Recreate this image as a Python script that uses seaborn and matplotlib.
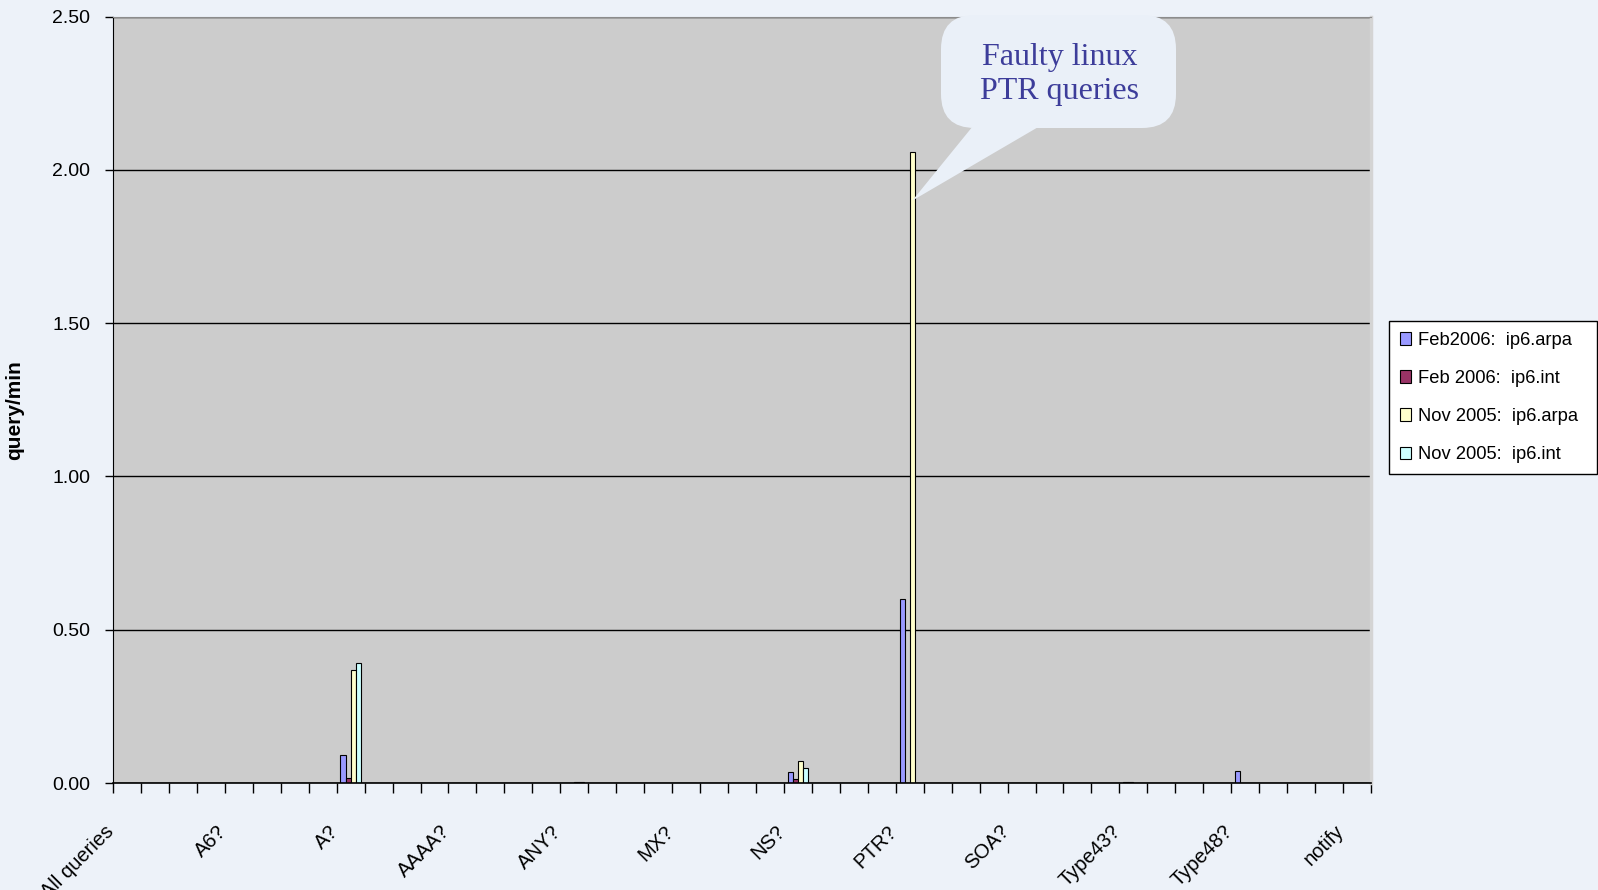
import numpy as np
import pandas as pd
import matplotlib
matplotlib.use("Agg")
import matplotlib.pyplot as plt
import seaborn as sns
from matplotlib.patches import FancyBboxPatch, Polygon
from matplotlib.transforms import ScaledTranslation, IdentityTransform

# ---------------- data ----------------
categories = ["All queries", "A6?", "A?", "AAAA?", "ANY?", "MX?", "NS?",
              "PTR?", "SOA?", "Type43?", "Type48?", "notify"]
series_names = ["Feb2006:  ip6.arpa", "Feb 2006:  ip6.int",
                "Nov 2005:  ip6.arpa", "Nov 2005:  ip6.int"]
feb2006_arpa = [0, 0, 0.09, 0, 0, 0, 0.037, 0.60, 0, 0.004, 0.039, 0]
feb2006_int = [0, 0, 0.015, 0, 0, 0, 0.013, 0, 0, 0.003, 0, 0]
nov2005_arpa = [0, 0, 0.37, 0, 0.003, 0, 0.073, 2.06, 0, 0, 0, 0]
nov2005_int = [0, 0, 0.39, 0, 0.003, 0, 0.049, 0, 0, 0, 0, 0]
colors = ["#9999ff", "#993366", "#ffffcc", "#ccffff"]
yticks = [0.0, 0.5, 1.0, 1.5, 2.0, 2.5]
label_step = 4          # the axis labels every 4th category slot
n_slots = 45

slot_names = [categories[i // label_step] if i % label_step == 0 else f"_slot{i}"
              for i in range(n_slots)]

rows = []
for name, vals in zip(series_names, [feb2006_arpa, feb2006_int, nov2005_arpa, nov2005_int]):
    for c, v in zip(categories, vals):
        rows.append({"category": c, "series": name, "value": v})
df = pd.DataFrame(rows)

# ---------------- figure ----------------
plt.rcParams["font.family"] = ["Liberation Sans", "DejaVu Sans"]
W, H = 1598, 890
fig = plt.figure(figsize=(W / 100, H / 100), dpi=100, facecolor="#edf2f9")
ax = fig.add_axes([113 / W, 107 / H, 1258 / W, 766.3 / H])
ax.set_facecolor("#cccccc")

sns.barplot(data=df, x="category", y="value", hue="series", order=slot_names,
            hue_order=series_names, palette=colors, saturation=1, width=0.73,
            edgecolor="black", linewidth=0.8, errorbar=None, ax=ax)

ax.set_xlim(-0.5, n_slots - 0.5)
ax.set_ylim(0, 2.5)
ax.set_axisbelow(True)
ax.yaxis.grid(True, color="black", linewidth=1)
ax.xaxis.grid(False)

ax.set_yticks(yticks, [f"{v:.2f}" for v in yticks])
ax.tick_params(axis="y", length=6, width=1, color="black", pad=10.5, labelsize=14)

ax.set_xticks(np.arange(n_slots + 1) - 0.5)
ax.set_xticklabels([])
ax.tick_params(axis="x", which="major", length=7, width=1, color="black")
label_pos = list(range(0, n_slots, label_step))
ax.set_xticks(label_pos, minor=True)
ax.set_xticklabels(categories, minor=True, rotation=45, ha="right", fontsize=14.5)
ax.tick_params(axis="x", which="minor", length=0, pad=28)
offset = ScaledTranslation(-9 / 100, 0, fig.dpi_scale_trans)
for lbl in ax.get_xticklabels(minor=True):
    lbl.set_transform(lbl.get_transform() + offset)

ax.set_xlabel("")
ax.set_ylabel("query/min", fontsize=15, fontweight="bold")
ax.yaxis.set_label_coords(-0.071, 0.487)

ax.spines["left"].set_color("black")
ax.spines["bottom"].set_color("black")
ax.spines["bottom"].set_linewidth(1.2)
ax.spines["top"].set_color("#8c8c8c")
ax.spines["right"].set_color("#d4d4d4")
ax.spines["right"].set_linewidth(2.5)

sns.move_legend(ax, "upper left",
                bbox_to_anchor=(1389 / W, 1 - 474 / H, (1597 - 1389) / W, (474 - 321) / H),
                bbox_transform=fig.transFigure, mode="expand", title=None,
                frameon=True, fancybox=False, edgecolor="black", facecolor="white",
                framealpha=1, fontsize=13.2, handlelength=0.6, handleheight=0.7,
                handletextpad=0.4, labelspacing=1.16, borderpad=0.58, borderaxespad=0)
ax.get_legend().get_frame().set_linewidth(1.0)

# ---------------- callout ----------------
tallest = max(ax.patches, key=lambda p: p.get_height())
tip_x = tallest.get_x() + tallest.get_width() / 2
tip = ax.transData.transform((tip_x, 1.90))
bubble_col = "#eaf0f8"
body = FancyBboxPatch((941, H - 128), 235, 113,
                      boxstyle="round,pad=0,rounding_size=34",
                      transform=IdentityTransform(), facecolor=bubble_col,
                      edgecolor="none", zorder=6)
fig.add_artist(body)
tail = Polygon([(973, H - 126), (1040, H - 126), (tip[0], tip[1])], closed=True,
               transform=IdentityTransform(), facecolor=bubble_col,
               edgecolor="none", zorder=6)
fig.add_artist(tail)
fig.text(1060 / W, 1 - 74.5 / H, "Faulty linux\nPTR queries", ha="center", va="center",
         family=["Liberation Serif", "DejaVu Serif"], fontsize=23, color="#3d3d9a",
         linespacing=1.21, zorder=7)

fig.savefig("out.png", dpi=100, facecolor=fig.get_facecolor())
